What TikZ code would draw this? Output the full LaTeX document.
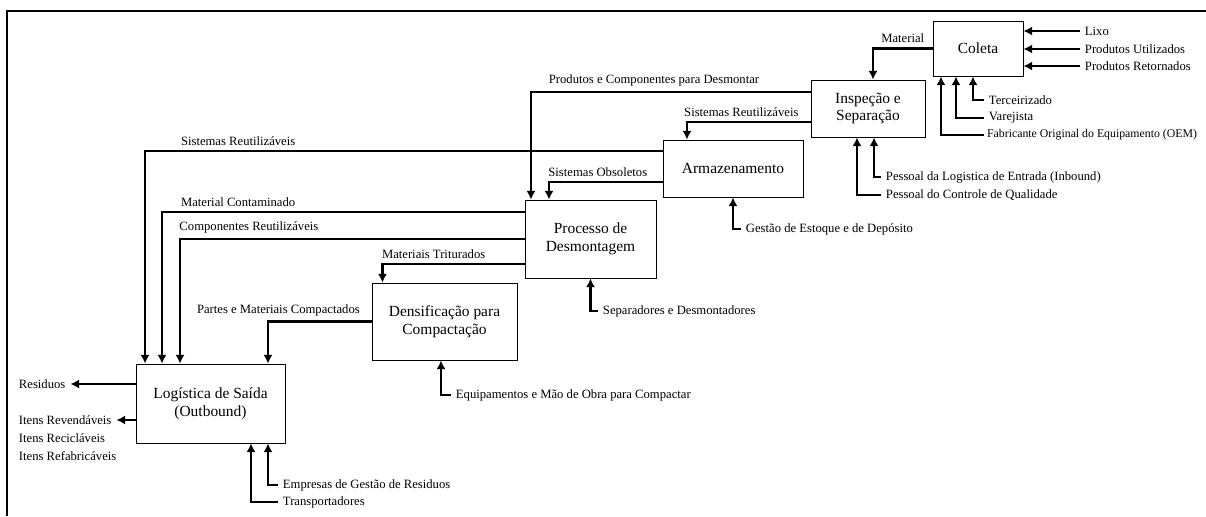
\documentclass[tikz,border=0pt]{standalone}
\usepackage{fontspec}
\setmainfont{Liberation Serif}
\usetikzlibrary{arrows.meta}

\begin{document}
\begin{tikzpicture}[x=0.025cm, y=-0.025cm, >={Latex[length=2.2mm,width=2.3mm]},
  box/.style={draw, rectangle, line width=0.6pt, align=center, font=\fontsize{11}{12.5}\selectfont},
  lbl/.style={font=\fontsize{9}{10.5}\selectfont},
  flow/.style={->, line width=1.6pt}]
\useasboundingbox (0,0) rectangle (1206,516);
\draw[line width=1.4pt] (1206,11) -- (7,11) -- (7,516);

% process boxes
\node[box, minimum width=2.25cm, minimum height=1.375cm] (coleta) at (978,48.5) {Coleta};
\node[box, minimum width=2.85cm, minimum height=1.425cm] (insp) at (868,108.5) {Inspeção e\\Separação};
\node[box, minimum width=3.5cm, minimum height=1.425cm] (arm) at (733,168.5) {Armazenamento};
\node[box, minimum width=3.275cm, minimum height=1.95cm] (proc) at (590.5,239) {Processo de\\Desmontagem};
\node[box, minimum width=3.625cm, minimum height=1.925cm] (dens) at (444.5,321.5) {Densificação para\\Compactação};
\node[box, minimum width=3.725cm, minimum height=1.975cm] (saida) at (210.5,403.5) {Logística de Saída\\(Outbound)};

% inputs and resources
\node[lbl, anchor=west] (lixo) at (1080,31) {Lixo};
\node[lbl, anchor=west] (utiliz) at (1080,49) {Produtos Utilizados};
\node[lbl, anchor=west] (retorn) at (1080,66) {Produtos Retornados};
\node[lbl, anchor=west] (terc) at (984,100) {Terceirizado};
\node[lbl, anchor=west] (varej) at (984,118) {Varejista};
\node[lbl, anchor=west, font=\fontsize{8.4}{10}\selectfont, inner sep=2pt] (oem) at (984,135) {Fabricante Original do Equipamento (OEM)};
\node[lbl, anchor=west] (inbound) at (881,177) {Pessoal da Logistica de Entrada (Inbound)};
\node[lbl, anchor=west] (qualid) at (881,195) {Pessoal do Controle de Qualidade};
\node[lbl, anchor=west] (estoque) at (741,229) {Gestão de Estoque e de Depósito};
\node[lbl, anchor=west] (desmont) at (598,311) {Separadores e Desmontadores};
\node[lbl, anchor=west] (equip) at (451,395) {Equipamentos e Mão de Obra para Compactar};
\node[lbl, anchor=west] (gestres) at (278,485) {Empresas de Gestão de Residuos};
\node[lbl, anchor=west] (transp) at (278,502) {Transportadores};

% outputs
\node[lbl, anchor=west] (resid) at (14,384) {Residuos};
\node[lbl, anchor=west] (revend) at (14,420) {Itens Revendáveis};
\node[lbl, anchor=west] (recicl) at (14,438) {Itens Recicláveis};
\node[lbl, anchor=west] (refab) at (14,456) {Itens Refabricáveis};

\draw[flow] (lixo.west) -- (lixo.west -| coleta.east);
\draw[flow] (utiliz.west) -- (utiliz.west -| coleta.east);
\draw[flow] (retorn.west) -- (retorn.west -| coleta.east);
\draw[flow] (terc.west) -| ([xshift=-0.125cm]coleta.south);
\draw[flow] (varej.west) -| ([xshift=-0.55cm]coleta.south);
\draw[flow] (oem.west) -| ([xshift=-0.925cm]coleta.south);

\draw[flow] (coleta.west) -| node[lbl, pos=0.25, above] {Material} ([xshift=0.125cm]insp.north);
\draw[flow] (inbound.west) -| ([xshift=0.15cm]insp.south);
\draw[flow] (qualid.west) -| ([xshift=-0.275cm]insp.south);

\draw[flow] ([yshift=0.4125cm]insp.west) -| node[lbl, pos=0.28, above] {Produtos e Componentes para Desmontar} ([xshift=-1.4875cm]proc.north);
\draw[flow] ([yshift=-0.3375cm]insp.west) -| node[lbl, pos=0.28, above] {Sistemas Reutilizáveis} ([xshift=-1.15cm]arm.north);

\draw[flow] ([yshift=0.4375cm]arm.west) -| node[lbl, pos=0.41, above] {Sistemas Reutilizáveis} ([xshift=-1.6375cm]saida.north);
\draw[flow] ([yshift=-0.3375cm]arm.west) -| node[lbl, pos=0.285, above] {Sistemas Obsoletos} ([xshift=-1.0375cm]proc.north);
\draw[flow] (estoque.west) -| (arm.south);

\draw[flow] ([yshift=0.675cm]proc.west) -| node[lbl, pos=0.395, above] {Material Contaminado} ([xshift=-1.2125cm]saida.north);
\draw[flow] (proc.west) -| node[lbl, pos=0.4, above] {Componentes Reutilizáveis} ([xshift=-0.7625cm]saida.north);
\draw[flow] ([yshift=-0.625cm]proc.west) -| node[lbl, pos=0.32, above] {Materiais Triturados} ([xshift=-1.55cm]dens.north);
\draw[flow] (desmont.west) -| (proc.south);

\draw[flow] (dens.west) -| node[lbl, pos=0.45, above] {Partes e Materiais Compactados} ([xshift=1.4375cm]saida.north);
\draw[flow] (equip.west) -| ([xshift=-0.0875cm]dens.south);

\draw[flow] (gestres.west) -| ([xshift=1.4375cm]saida.south);
\draw[flow] (transp.west) -| ([xshift=1.0125cm]saida.south);
\draw[flow] (saida.west |- resid.east) -- (resid.east);
\draw[flow] (saida.west |- revend.east) -- (revend.east);
\end{tikzpicture}
\end{document}
